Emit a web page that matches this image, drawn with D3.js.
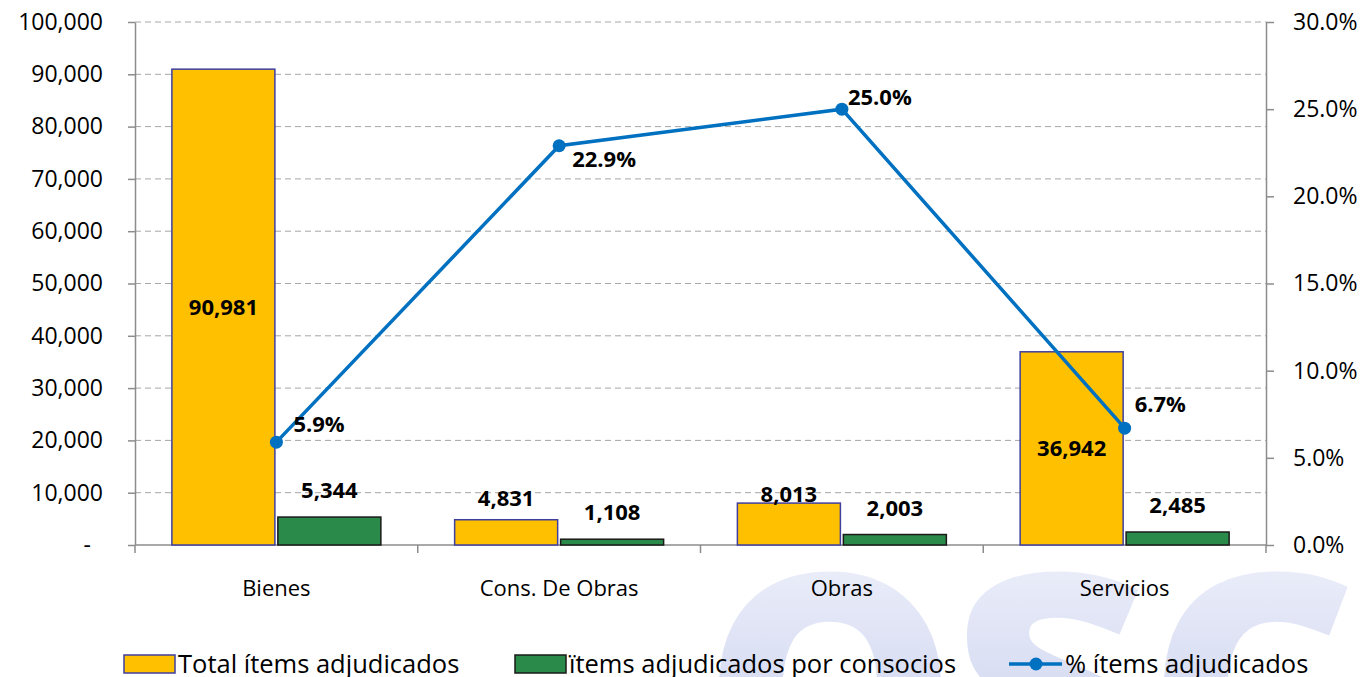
<!DOCTYPE html>
<html>
<head>
<meta charset="utf-8">
<script src="https://cdn.jsdelivr.net/npm/d3@7"></script>
<style>
  html, body { margin: 0; padding: 0; background: #fff; overflow: hidden; }
  svg { display: block; font-family: "Open Sans", sans-serif; }
</style>
</head>
<body>
<script>
const categories = ["Bienes", "Cons. De Obras", "Obras", "Servicios"];
const totalItems = [90981, 4831, 8013, 36942];
const consorcioItems = [5344, 1108, 2003, 2485];
const pctItems = [0.059, 0.229, 0.25, 0.067];
const leftTicks = [0, 10000, 20000, 30000, 40000, 50000, 60000, 70000, 80000, 90000, 100000];
const rightTicks = [0, 0.05, 0.1, 0.15, 0.2, 0.25, 0.3];
const seriesNames = ["Total ítems adjudicados", "ïtems adjudicados por consocios", "% ítems adjudicados"];

const width = 1367;
const height = 677;
const plotLeft = 135, plotRight = 1266, plotTop = 22, plotBottom = 545;

const yellow = "#FFC000", yellowStroke = "#3F3F9F";
const green = "#2A8A4A", greenStroke = "#1a1a1a";
const blue = "#0070C0";
const axisGray = "#8c8c8c";

// label nudges (layout only)
const totalLabelDy = [null, -14, -1, null]; // null = centred inside bar
const pctLabelOffset = [[17, -10], [13, 21], [6, -4], [10, -16]];

const svg = d3.select("body").append("svg")
  .attr("width", width)
  .attr("height", height);

// faint watermark behind the chart
const grad = svg.append("defs").append("linearGradient")
  .attr("id", "wm")
  .attr("gradientUnits", "userSpaceOnUse")
  .attr("x1", 0).attr("y1", 540).attr("x2", 0).attr("y2", 677);
grad.append("stop").attr("offset", 0).attr("stop-color", "#eef0fa");
grad.append("stop").attr("offset", 1).attr("stop-color", "#d9def3");

svg.append("text")
  .attr("x", 700)
  .attr("y", 805)
  .attr("font-size", 420)
  .attr("font-weight", 700)
  .attr("fill", "url(#wm)")
  .attr("letter-spacing", -12)
  .text("osc");

const x0 = d3.scaleBand().domain(categories).range([plotLeft, plotRight]);
const x1 = d3.scaleBand().domain([0, 1]).range([0, x0.bandwidth()])
  .paddingInner(0.028).paddingOuter(0.348);
const y = d3.scaleLinear().domain([0, 100000]).range([plotBottom, plotTop]);
const y2 = d3.scaleLinear().domain([0, 0.3]).range([plotBottom, plotTop]);

// gridlines
svg.append("g")
  .selectAll("line")
  .data(leftTicks.slice(1))
  .join("line")
  .attr("x1", plotLeft).attr("x2", plotRight)
  .attr("y1", d => y(d)).attr("y2", d => y(d))
  .attr("stroke", "#a6a6a6")
  .attr("stroke-width", 1)
  .attr("stroke-dasharray", "6,4");

// left axis
const fmt = d3.format(",");
const leftAxis = svg.append("g")
  .attr("transform", `translate(${plotLeft},0)`)
  .call(d3.axisLeft(y).tickValues(leftTicks).tickSize(7).tickSizeOuter(0).tickPadding(25)
    .tickFormat(d => d === 0 ? "-" : fmt(d)));
leftAxis.select(".domain").attr("stroke", axisGray).attr("stroke-width", 1.5);
leftAxis.selectAll(".tick line").attr("stroke", axisGray).attr("stroke-width", 1.5);
leftAxis.selectAll("text").attr("font-size", 23).attr("fill", "#000")
  .attr("font-family", "Open Sans")
  .attr("dx", d => d === 0 ? -12 : 0);

// right axis
const rightAxis = svg.append("g")
  .attr("transform", `translate(${plotRight},0)`)
  .call(d3.axisRight(y2).tickValues(rightTicks).tickSize(8).tickSizeOuter(0).tickPadding(19)
    .tickFormat(d3.format(".1%")));
rightAxis.select(".domain").attr("stroke", axisGray).attr("stroke-width", 1.5);
rightAxis.selectAll(".tick line").attr("stroke", axisGray).attr("stroke-width", 1.5);
rightAxis.selectAll("text").attr("font-size", 23).attr("fill", "#000")
  .attr("font-family", "Open Sans");

// bottom axis: line, boundary ticks, category labels
svg.append("line")
  .attr("x1", plotLeft).attr("x2", plotRight)
  .attr("y1", plotBottom).attr("y2", plotBottom)
  .attr("stroke", axisGray).attr("stroke-width", 1.5);
const bounds = categories.map(c => x0(c)).concat([x0(categories[categories.length - 1]) + x0.step()]);
svg.append("g").selectAll("line")
  .data(bounds)
  .join("line")
  .attr("x1", d => d).attr("x2", d => d)
  .attr("y1", plotBottom).attr("y2", plotBottom + 8)
  .attr("stroke", axisGray).attr("stroke-width", 1.5);
svg.append("g").selectAll("text")
  .data(categories)
  .join("text")
  .attr("x", d => x0(d) + x0.bandwidth() / 2)
  .attr("y", 596)
  .attr("text-anchor", "middle")
  .attr("font-size", 22)
  .text(d => d);

// bars
const bars = svg.append("g");
bars.selectAll("rect.total")
  .data(totalItems)
  .join("rect")
  .attr("class", "total")
  .attr("x", (d, i) => x0(categories[i]) + x1(0))
  .attr("y", d => y(d))
  .attr("width", x1.bandwidth())
  .attr("height", d => y(0) - y(d))
  .attr("fill", yellow)
  .attr("stroke", yellowStroke)
  .attr("stroke-width", 1.5);
bars.selectAll("rect.cons")
  .data(consorcioItems)
  .join("rect")
  .attr("class", "cons")
  .attr("x", (d, i) => x0(categories[i]) + x1(1))
  .attr("y", d => y(d))
  .attr("width", x1.bandwidth())
  .attr("height", d => y(0) - y(d))
  .attr("fill", green)
  .attr("stroke", greenStroke)
  .attr("stroke-width", 1.5);

// line series
const cx = i => x0(categories[i]) + x0.bandwidth() / 2;
svg.append("path")
  .datum(pctItems)
  .attr("fill", "none")
  .attr("stroke", blue)
  .attr("stroke-width", 3.5)
  .attr("d", d3.line().x((d, i) => cx(i)).y(d => y2(d)));
svg.append("g").selectAll("circle")
  .data(pctItems)
  .join("circle")
  .attr("cx", (d, i) => cx(i))
  .attr("cy", d => y2(d))
  .attr("r", 6.5)
  .attr("fill", blue);

// data labels
const labels = svg.append("g").attr("font-size", 22).attr("font-weight", 700).attr("fill", "#000");
labels.selectAll("text.total")
  .data(totalItems)
  .join("text")
  .attr("class", "total")
  .attr("x", (d, i) => x0(categories[i]) + x1(0) + x1.bandwidth() / 2)
  .attr("y", (d, i) => totalLabelDy[i] === null ? (y(d) + y(0)) / 2 : y(d) + totalLabelDy[i])
  .attr("dy", (d, i) => totalLabelDy[i] === null ? "0.35em" : 0)
  .attr("text-anchor", "middle")
  .text(d => fmt(d));
labels.selectAll("text.cons")
  .data(consorcioItems)
  .join("text")
  .attr("class", "cons")
  .attr("x", (d, i) => x0(categories[i]) + x1(1) + x1.bandwidth() / 2)
  .attr("y", d => y(d) - 19)
  .attr("text-anchor", "middle")
  .text(d => fmt(d));
labels.selectAll("text.pct")
  .data(pctItems)
  .join("text")
  .attr("class", "pct")
  .attr("x", (d, i) => cx(i) + pctLabelOffset[i][0])
  .attr("y", (d, i) => y2(d) + pctLabelOffset[i][1])
  .text(d => d3.format(".1%")(d));

// legend
const legend = svg.append("g").attr("font-size", 25.5);
legend.append("rect")
  .attr("x", 124).attr("y", 655).attr("width", 51).attr("height", 18)
  .attr("fill", yellow).attr("stroke", yellowStroke).attr("stroke-width", 1.5);
legend.append("text").attr("x", 178).attr("y", 673).text(seriesNames[0]);
legend.append("rect")
  .attr("x", 515).attr("y", 655).attr("width", 51).attr("height", 18)
  .attr("fill", green).attr("stroke", greenStroke).attr("stroke-width", 1.5);
legend.append("text").attr("x", 569).attr("y", 673).text(seriesNames[1]);
legend.append("line")
  .attr("x1", 1009).attr("x2", 1062).attr("y1", 664).attr("y2", 664)
  .attr("stroke", blue).attr("stroke-width", 3.5);
legend.append("circle").attr("cx", 1036).attr("cy", 664).attr("r", 6.5).attr("fill", blue);
legend.append("text").attr("x", 1065).attr("y", 673).text(seriesNames[2]);
</script>
</body>
</html>
